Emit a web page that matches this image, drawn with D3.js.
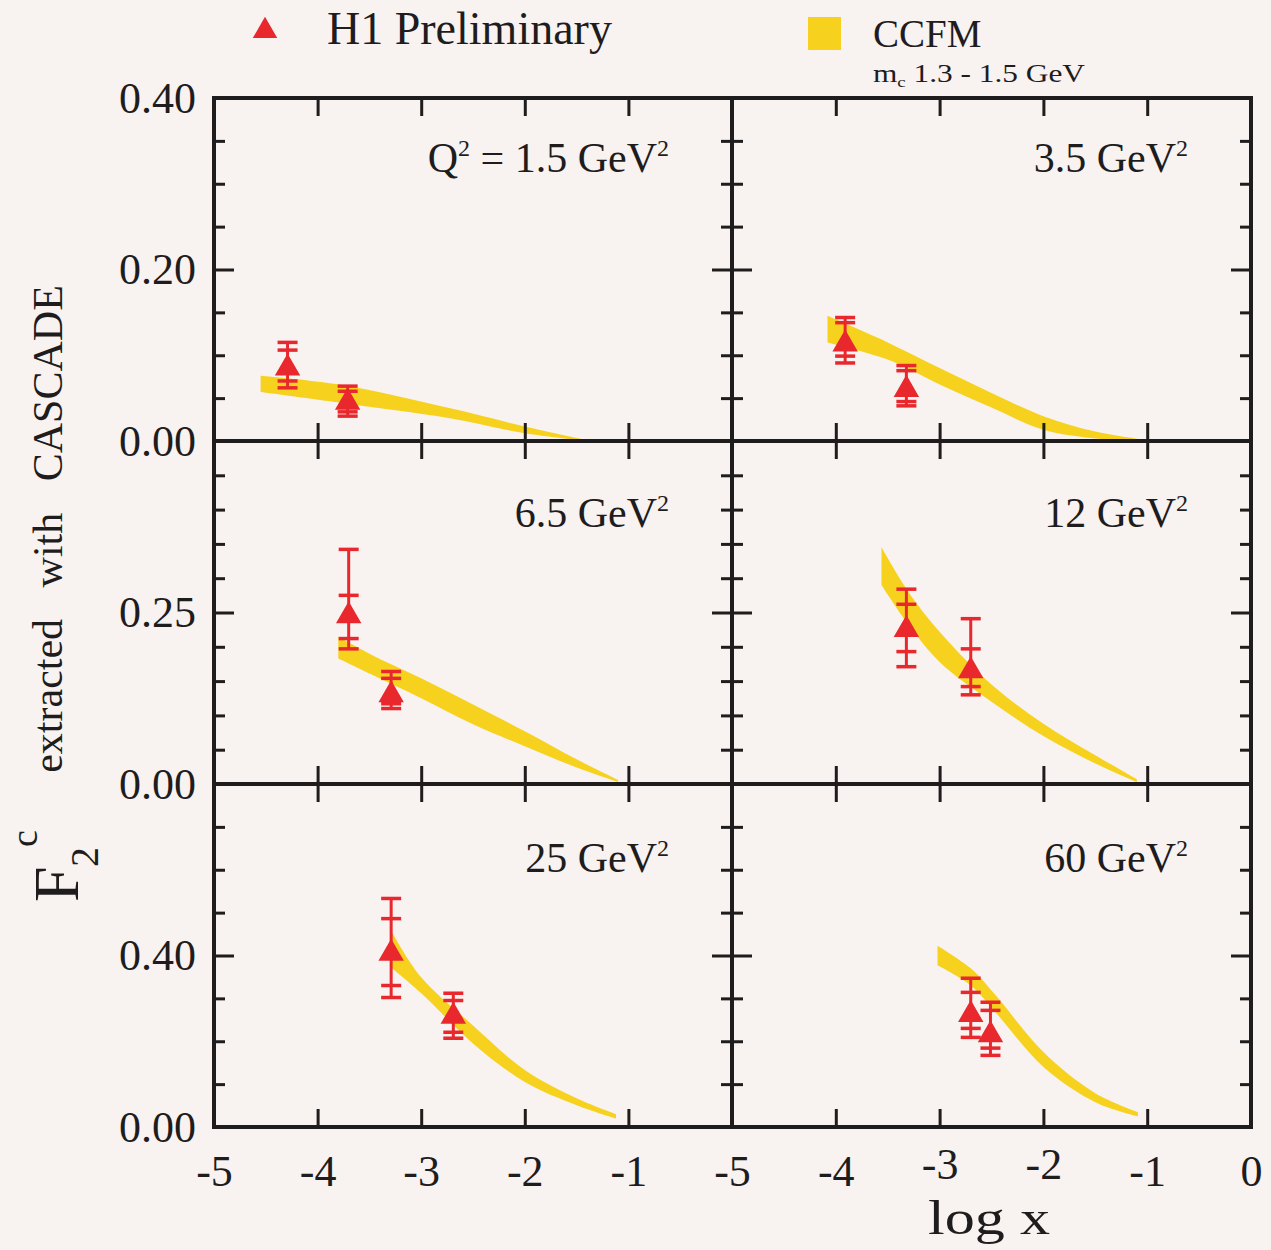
<!DOCTYPE html>
<html>
<head>
<meta charset="utf-8">
<script src="https://cdn.jsdelivr.net/npm/d3@7"></script>
<style>
  body { margin: 0; background: #f8f2f1; }
  svg { display: block; }
  text { font-family: "Liberation Serif", "Times New Roman", serif; fill: #1e1c1c; }
</style>
</head>
<body>
<div class="graph-container"></div>
<script>
// Q^2 of each panel (left to right, top to bottom)
const q2Labels = ['1.5', '3.5', '6.5', '12', '25', '60'];

// y range and tick steps per row of panels
const rowMax = [0.4, 0.5, 0.8];
const rowMajor = [0.2, 0.25, 0.4];
const rowMinor = [0.05, 0.05, 0.1];
const rowLabels = [[0, 0.2, 0.4], [0, 0.25], [0, 0.4]];
const xTicks = [-5, -4, -3, -2, -1, 0];

// H1 preliminary points: log x, F2c, stat (inner) and total (outer) errors
const h1LogX = [[-4.29, -3.71], [-3.91, -3.32], [-3.70, -3.29], [-3.32, -2.70], [-3.29, -2.69], [-2.70, -2.51]];
const h1F2c = [[0.085, 0.045], [0.113, 0.060], [0.245, 0.130], [0.225, 0.165], [0.405, 0.258], [0.262, 0.215]];
const h1StatUp = [[0.021, 0.013], [0.025, 0.022], [0.030, 0.024], [0.037, 0.032], [0.081, 0.037], [0.052, 0.057]];
const h1StatDn = [[0.015, 0.011], [0.014, 0.014], [0.033, 0.013], [0.032, 0.023], [0.075, 0.037], [0.032, 0.031]];
const h1TotUp = [[0.030, 0.019], [0.031, 0.028], [0.097, 0.034], [0.059, 0.076], [0.128, 0.054], [0.085, 0.076]];
const h1TotDn = [[0.023, 0.016], [0.022, 0.019], [0.048, 0.020], [0.054, 0.035], [0.103, 0.051], [0.053, 0.048]];

// CCFM band (m_c 1.3 - 1.5 GeV)
const ccfmLogX = [
  [-4.55, -3.75, -2.75, -2.0, -1.4],
  [-4.08, -3.5, -3.0, -2.5, -2.0, -1.5, -1.0],
  [-3.8, -3.5, -3.0, -2.5, -2.0, -1.5, -1.1],
  [-3.56, -3.3, -3.0, -2.5, -2.0, -1.5, -1.1],
  [-3.29, -3.0, -2.5, -2.0, -1.5, -1.12],
  [-3.02, -2.7, -2.47, -2.0, -1.5, -1.09]
];
const ccfmHigh = [
  [0.076, 0.065, 0.039, 0.017, 0.001],
  [0.146, 0.115, 0.085, 0.056, 0.029, 0.011, 0.001],
  [0.2145, 0.190, 0.154, 0.116, 0.077, 0.036, 0.006],
  [0.345, 0.280, 0.222, 0.145, 0.088, 0.042, 0.007],
  [0.458, 0.349, 0.237, 0.133, 0.067, 0.030],
  [0.423, 0.370, 0.310, 0.175, 0.079, 0.035]
];
const ccfmLow = [
  [0.057, 0.044, 0.027, 0.009, 0.0],
  [0.115, 0.095, 0.066, 0.039, 0.013, 0.003, 0.0],
  [0.183, 0.161, 0.125, 0.087, 0.055, 0.024, 0.003],
  [0.290, 0.232, 0.178, 0.120, 0.070, 0.030, 0.003],
  [0.372, 0.312, 0.195, 0.105, 0.051, 0.020],
  [0.377, 0.330, 0.270, 0.140, 0.058, 0.025]
];

const width = 1271, height = 1250;
const colX = [214, 732, 1251];
const rowY = [98, 441, 784, 1127];
const ink = '#1e1c1c', red = '#e8282d', yellow = '#f6d21f';

const svg = d3.select('.graph-container')
              .append('svg')
              .attr('width', width)
              .attr('height', height)
              .attr('viewBox', `0 0 ${width} ${height}`);

function styleTicks(g) {
  g.select('.domain').remove();
  g.selectAll('line').attr('stroke', ink).attr('stroke-width', 3);
}

q2Labels.forEach((q2, i) => {
  let col = i % 2, row = Math.floor(i / 2);
  let x = d3.scaleLinear().domain([-5, 0]).range([colX[col], colX[col + 1]]);
  let y = d3.scaleLinear().domain([0, rowMax[row]]).range([rowY[row + 1], rowY[row]]);
  let panel = svg.append('g').attr('class', 'panel');

  // CCFM band
  let band = ccfmLogX[i].map((lx, k) => ({x: lx, lo: ccfmLow[i][k], hi: ccfmHigh[i][k]}));
  panel.append('path')
       .datum(band)
       .attr('fill', yellow)
       .attr('d', d3.area()
         .x(d => x(d.x))
         .y0(d => y(d.lo))
         .y1(d => y(d.hi))
         .curve(d3.curveCatmullRom.alpha(0.5)));

  // H1 points with inner (stat) and outer (total) error bars
  h1LogX[i].forEach((lx, j) => {
    let c = h1F2c[i][j];
    let px = x(lx);
    let g = panel.append('g').attr('class', 'point');
    g.append('line')
     .attr('x1', px).attr('x2', px)
     .attr('y1', y(c - h1TotDn[i][j])).attr('y2', y(c + h1TotUp[i][j]))
     .attr('stroke', red).attr('stroke-width', 3);
    [c + h1TotUp[i][j], c + h1StatUp[i][j], c - h1StatDn[i][j], c - h1TotDn[i][j]].forEach(v => {
      g.append('line')
       .attr('x1', px - 10).attr('x2', px + 10)
       .attr('y1', y(v)).attr('y2', y(v))
       .attr('stroke', red).attr('stroke-width', 3.5);
    });
    g.append('path')
     .attr('transform', `translate(${px},${y(c)})`)
     .attr('d', d3.symbol(d3.symbolTriangle, 280)())
     .attr('fill', red);
  });

  // ticks, all pointing inward
  let majors = d3.range(rowMajor[row], rowMax[row] - 1e-9, rowMajor[row]);
  let minors = d3.range(rowMinor[row], rowMax[row] - 1e-9, rowMinor[row])
                 .filter(v => !majors.some(m => Math.abs(m - v) < 1e-9));
  let inner = [-4, -3, -2, -1];

  [[minors, 11], [majors, 20]].forEach(([vals, len]) => {
    panel.append('g')
         .attr('transform', `translate(${colX[col]},0)`)
         .call(d3.axisLeft(y).tickValues(vals).tickSize(-len).tickFormat(''))
         .call(styleTicks);
    panel.append('g')
         .attr('transform', `translate(${colX[col + 1]},0)`)
         .call(d3.axisRight(y).tickValues(vals).tickSize(-len).tickFormat(''))
         .call(styleTicks);
  });
  panel.append('g')
       .attr('transform', `translate(0,${rowY[row]})`)
       .call(d3.axisTop(x).tickValues(inner).tickSize(-18).tickFormat(''))
       .call(styleTicks);
  panel.append('g')
       .attr('transform', `translate(0,${rowY[row + 1]})`)
       .call(d3.axisBottom(x).tickValues(inner).tickSize(-18).tickFormat(''))
       .call(styleTicks);

  // frame
  panel.append('rect')
       .attr('x', colX[col]).attr('y', rowY[row])
       .attr('width', colX[col + 1] - colX[col])
       .attr('height', rowY[row + 1] - rowY[row])
       .attr('fill', 'none')
       .attr('stroke', ink)
       .attr('stroke-width', 4);

  // tick labels
  if (col === 0) {
    panel.append('g')
         .attr('transform', `translate(${colX[0]},0)`)
         .call(d3.axisLeft(y).tickValues(rowLabels[row]).tickSize(0).tickPadding(18)
                 .tickFormat(d3.format('.2f')))
         .call(g => g.select('.domain').remove())
         .selectAll('text')
         .attr('font-family', '"Liberation Serif", serif')
         .attr('font-size', 44)
         .attr('fill', ink);
  }
  if (row === 2) {
    panel.append('g')
         .attr('transform', `translate(0,${rowY[3]})`)
         .call(d3.axisBottom(x).tickValues(col === 0 ? xTicks.slice(0, 5) : xTicks)
                 .tickSize(0).tickPadding(28).tickFormat(d => String(d)))
         .call(g => g.select('.domain').remove())
         .selectAll('text')
         .attr('font-family', '"Liberation Serif", serif')
         .attr('font-size', 44)
         .attr('fill', ink)
         // the two labels above "log x" sit a little higher, as in the original
         .attr('y', d => (col === 1 && (d === -3 || d === -2)) ? 21 : 28);
  }

  // Q^2 label
  let lab = panel.append('text')
                 .attr('x', colX[col + 1] - 63)
                 .attr('y', rowY[row] + [74, 86, 88][row])
                 .attr('text-anchor', 'end')
                 .attr('font-size', 42);
  if (i === 0) {
    lab.append('tspan').text('Q');
    lab.append('tspan').attr('font-size', 24).attr('dy', -16).text('2');
    lab.append('tspan').attr('dy', 16).text(' = ');
  }
  lab.append('tspan').text(q2 + ' GeV');
  lab.append('tspan').attr('font-size', 24).attr('dy', -16).text('2');
});

// legend
svg.append('path')
   .attr('transform', 'translate(265,31)')
   .attr('d', d3.symbol(d3.symbolTriangle, 260)())
   .attr('fill', red);
svg.append('text').attr('x', 327).attr('y', 44).attr('font-size', 46).text('H1 Preliminary');
svg.append('rect').attr('x', 808).attr('y', 17).attr('width', 33).attr('height', 33).attr('fill', yellow);
svg.append('text').attr('x', 873).attr('y', 47).attr('font-size', 39).text('CCFM');
let mc = svg.append('text').attr('x', 873).attr('y', 82).attr('font-size', 25)
            .attr('textLength', 212).attr('lengthAdjust', 'spacingAndGlyphs');
mc.append('tspan').text('m');
mc.append('tspan').attr('font-size', 15).attr('dy', 5).text('c');
mc.append('tspan').attr('dy', -5).text(' 1.3 - 1.5 GeV');

// y title
svg.append('text')
   .attr('transform', 'translate(62,529) rotate(-90)')
   .attr('text-anchor', 'middle')
   .attr('font-size', 42)
   .style('white-space', 'pre')
   .text('extracted   with   CASCADE');
svg.append('text').attr('transform', 'translate(78,902) rotate(-90)').attr('font-size', 64).text('F');
svg.append('text').attr('transform', 'translate(98,867) rotate(-90)').attr('font-size', 40).text('2');
svg.append('text').attr('transform', 'translate(37,847) rotate(-90)').attr('font-size', 38).text('c');

// x title
svg.append('text')
   .attr('x', 989).attr('y', 1234)
   .attr('text-anchor', 'middle')
   .attr('font-size', 48)
   .attr('textLength', 122).attr('lengthAdjust', 'spacingAndGlyphs')
   .text('log x');
</script>
</body>
</html>
